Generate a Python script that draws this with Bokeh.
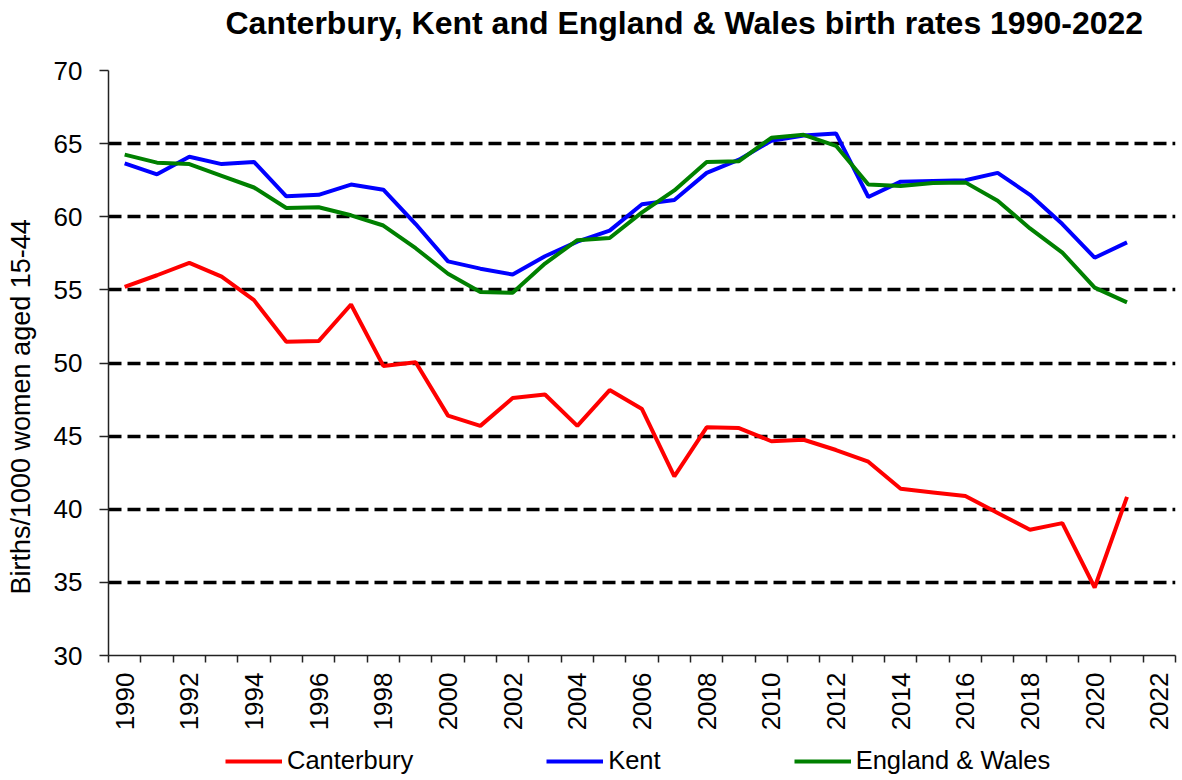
import math
from bokeh.plotting import figure
from bokeh.layouts import column
from bokeh.models import (Range1d, FixedTicker, Legend, LegendItem, Title)
from bokeh.embed import file_html
from bokeh.resources import INLINE

# ---- data ----
years = list(range(1990, 2022))
canterbury = [55.2, 56.0, 56.85, 55.9, 54.3, 51.45, 51.5, 54.0, 49.8, 50.05,
              46.4, 45.7, 47.6, 47.85, 45.7, 48.15, 46.85, 42.25, 45.6, 45.55,
              44.65, 44.75, 44.05, 43.25, 41.4, 41.15, 40.9, 39.75, 38.6, 39.05,
              34.65, 40.85]
kent = [63.65, 62.9, 64.1, 63.6, 63.75, 61.4, 61.5, 62.2, 61.85, 59.5,
        56.95, 56.45, 56.05, 57.3, 58.3, 59.05, 60.85, 61.15, 63.0, 63.9,
        65.2, 65.55, 65.7, 61.35, 62.4, 62.45, 62.5, 63.0, 61.5, 59.5,
        57.2, 58.25]
england_wales = [64.25, 63.7, 63.6, 62.8, 62.0, 60.6, 60.65, 60.1, 59.4, 57.85,
                 56.1, 54.85, 54.8, 56.8, 58.4, 58.55, 60.3, 61.8, 63.75, 63.8,
                 65.4, 65.6, 64.85, 62.2, 62.1, 62.3, 62.35, 61.1, 59.2, 57.55,
                 55.15, 54.15]
series_names = ["Canterbury", "Kent", "England & Wales"]
series_colors = ["#FF0000", "#0000FF", "#008000"]
x_label_years = list(range(1990, 2023, 2))
category_edges = [y - 0.5 for y in range(1990, 2024)]
y_ticks = [30, 35, 40, 45, 50, 55, 60, 65, 70]
title_text = "Canterbury, Kent and England & Wales birth rates 1990-2022"
y_title = "Births/1000 women aged 15-44"

FONT = "Liberation Sans"
W = 1180
LEFT = 106
RIGHT = 5


def blank(fig):
    fig.outline_line_color = None
    fig.xgrid.visible = False
    fig.ygrid.visible = False
    fig.background_fill_color = "white"
    fig.border_fill_color = "white"


# ---- title strip ----
t = figure(width=W, height=48, output_backend="svg", toolbar_location=None,
           x_range=Range1d(0, 1), y_range=Range1d(0, 1),
           x_axis_location=None, y_axis_location=None,
           min_border_left=LEFT, min_border_right=RIGHT, min_border_top=0, min_border_bottom=0)
blank(t)
t.title.text = title_text
t.title.text_font = FONT
t.title.text_font_size = "32px"
t.title.text_font_style = "bold"
t.title.text_color = "black"
t.title.align = "left"
t.title.vertical_align = "top"
t.title.offset = 117
t.title.standoff = 8

# ---- main chart ----
p = figure(width=W, height=685, output_backend="svg", toolbar_location=None,
           x_range=Range1d(1989.5, 2022.5), y_range=Range1d(30, 70),
           min_border_left=LEFT, min_border_right=RIGHT, min_border_top=22,
           min_border_bottom=77)
p.outline_line_color = None
p.background_fill_color = "white"
p.border_fill_color = "white"

xa = p.xaxis[0]
xa.ticker = FixedTicker(ticks=x_label_years, minor_ticks=category_edges)
xa.major_tick_out = 0
xa.major_tick_in = 0
xa.minor_tick_out = 7
xa.minor_tick_in = 0
xa.minor_tick_line_color = "#222222"
xa.minor_tick_line_width = 1.5
xa.axis_line_color = "#222222"
xa.axis_line_width = 1.5
xa.major_label_orientation = math.pi / 2
xa.major_label_standoff = 10
xa.major_label_text_font = FONT
xa.major_label_text_font_size = "26px"
xa.major_label_text_color = "black"

ya = p.yaxis[0]
ya.ticker = FixedTicker(ticks=y_ticks)
ya.major_tick_out = 9
ya.major_tick_in = 0
ya.minor_tick_line_color = None
ya.major_tick_line_color = "#222222"
ya.major_tick_line_width = 1.5
ya.axis_line_color = "#222222"
ya.axis_line_width = 1.5
ya.major_label_standoff = 17
ya.major_label_text_font = FONT
ya.major_label_text_font_size = "26px"
ya.major_label_text_color = "black"

# spacer between the tick labels and the y title, then the y title
p.add_layout(Title(text=" ", text_font_size="1px", standoff=9), "left")
p.add_layout(Title(text=y_title, align="left", offset=61, standoff=6,
                   text_font=FONT, text_font_size="27px", text_font_style="normal",
                   text_color="black"), "left")

p.xgrid.grid_line_color = None
p.ygrid.ticker = FixedTicker(ticks=y_ticks[1:])
p.ygrid.grid_line_color = "black"
p.ygrid.grid_line_width = 3.5
p.ygrid.grid_line_dash = "13 6"

all_series = [canterbury, kent, england_wales]
for vals, name, col in zip(all_series, series_names, series_colors):
    p.line(years, vals, line_color=col, line_width=4)

# ---- legend strip below the chart ----
s = figure(width=W, height=43, output_backend="svg", toolbar_location=None,
           x_range=Range1d(1989.5, 2022.5), y_range=Range1d(30, 70),
           x_axis_location=None, y_axis_location=None,
           min_border_left=LEFT, min_border_right=RIGHT, min_border_top=0, min_border_bottom=0)
blank(s)
legend_renderers = []
for vals, name, col in zip(all_series, series_names, series_colors):
    r = s.line(years, vals, line_color=col, line_width=4, visible=False)
    legend_renderers.append(r)

legend = Legend(items=[LegendItem(label=n, renderers=[r]) for n, r in zip(series_names, legend_renderers)],
                orientation="horizontal", location=(117, 1),
                label_text_font=FONT, label_text_font_size="25.5px", label_text_color="black",
                glyph_width=57, glyph_height=20, label_standoff=5, spacing=133,
                padding=0, margin=0, border_line_color=None, background_fill_alpha=0,
                inactive_fill_alpha=0, click_policy="none")
s.add_layout(legend, "center")

layout = column(t, p, s, spacing=0)
open("out.html", "w").write(file_html(layout, INLINE))
